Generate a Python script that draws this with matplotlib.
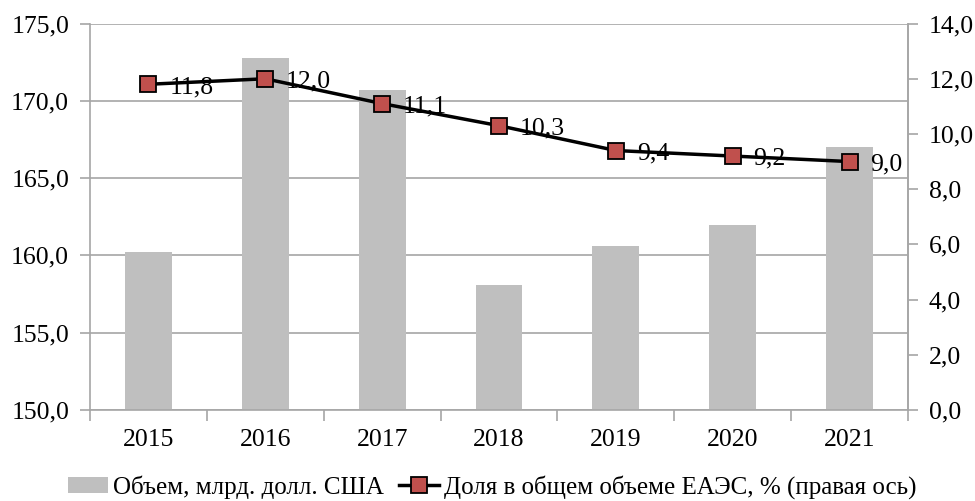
import matplotlib
matplotlib.use("Agg")
import matplotlib.pyplot as plt
import numpy as np
from matplotlib.ticker import FixedLocator, FuncFormatter

plt.rcParams['font.family'] = ['Liberation Serif', 'DejaVu Serif']

years = ["2015", "2016", "2017", "2018", "2019", "2020", "2021"]
volume = [160.2, 172.8, 170.7, 158.1, 160.6, 162.0, 167.0]
share = [11.8, 12.0, 11.1, 10.3, 9.4, 9.2, 9.0]
share_labels = ["11,8", "12,0", "11,1", "10,3", "9,4", "9,2", "9,0"]

bar_name = "Объем, млрд. долл. США"
line_name = "Доля в общем объеме ЕАЭС, % (правая ось)"

grid_c = "#a6a6a6"
bar_c = "#bfbfbf"
marker_c = "#c0504d"
fs = 18.5

fig = plt.figure(figsize=(9.75, 5.01), dpi=100)
ax = fig.add_axes([0.0923, 0.1816, 0.8390, 0.7714])
x = np.arange(len(years))

bars = ax.bar(x, volume, width=0.4, color=bar_c, zorder=2, label=bar_name)
ax.set_ylim(150, 175)
ax.set_xlim(-0.5, len(years) - 0.5)
ax.set_yticks(np.arange(150, 175.1, 5))
ax.yaxis.set_major_formatter(FuncFormatter(lambda v, p: f"{v:.1f}".replace(".", ",")))
ax.grid(axis="y", color=grid_c, linewidth=1.2, zorder=0)
ax.set_axisbelow(True)
ax.set_xticks(x)
ax.set_xticklabels(years)
ax.xaxis.set_minor_locator(FixedLocator(np.arange(-0.5, len(years), 1.0)))
ax.tick_params(axis="x", which="major", length=0, pad=14, labelsize=fs)
ax.tick_params(axis="x", which="minor", length=8, color=grid_c, width=1.2)
ax.tick_params(axis="y", length=7, color=grid_c, width=1.2, pad=8, labelsize=fs)
ax.spines["top"].set_visible(False)
for s in ["left", "bottom", "right"]:
    ax.spines[s].set_color(grid_c)
    ax.spines[s].set_linewidth(1.2)

ax2 = ax.twinx()
ax2.set_ylim(0, 14)
ax2.set_yticks(np.arange(0, 14.1, 2))
ax2.yaxis.set_major_formatter(FuncFormatter(lambda v, p: f"{v:.1f}".replace(".", ",")))
ax2.tick_params(axis="y", length=7, color=grid_c, width=1.2, pad=8, labelsize=fs)
for s in ["top", "left", "bottom"]:
    ax2.spines[s].set_visible(False)
ax2.spines["right"].set_color(grid_c)
ax2.spines["right"].set_linewidth(1.2)

line, = ax2.plot(x, share, color="black", linewidth=2.5, marker="s", markersize=12,
                 markerfacecolor=marker_c, markeredgecolor="black", markeredgewidth=1.3,
                 zorder=4, label=line_name)
for xi, yi, t in zip(x, share, share_labels):
    ax2.annotate(t, (xi, yi), xytext=(15, -2), textcoords="offset points",
                 ha="left", va="center", fontsize=fs, zorder=5)

fig.legend([bars, line], [bar_name, line_name], loc="center", bbox_to_anchor=(0.505, 0.028),
           ncol=2, frameon=False, fontsize=18, handlelength=1.6, handleheight=0.6,
           handletextpad=0.2, columnspacing=0.6, borderaxespad=0)

fig.savefig("out.png", dpi=100)
